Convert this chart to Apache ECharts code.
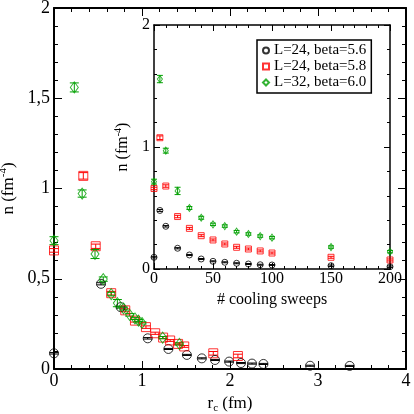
<!DOCTYPE html>
<html>
<head>
<meta charset="utf-8">
<script src="https://cdn.jsdelivr.net/npm/echarts@6/dist/echarts.min.js"></script>
<style>
  html, body { margin: 0; padding: 0; background: #fff; }
  #chart { width: 414px; height: 414px; }
</style>
</head>
<body>
<div id="chart"></div>
<script>
// series names
const names = ['L=24, beta=5.6', 'L=24, beta=5.8', 'L=32, beta=6.0'];
const colors = ['#000000', '#ff0000', '#00a000'];

// main plot: r_c (fm) vs n, with errors
const mainBlack = [[0, 0.087], [0.534, 0.472], [0.757, 0.343], [1.065, 0.17], [1.30, 0.111], [1.51, 0.078], [1.68, 0.059],
  [1.83, 0.05], [1.99, 0.041], [2.125, 0.033], [2.25, 0.03], [2.38, 0.028], [2.91, 0.018], [3.36, 0.017]];
const mainBlackErr = [0.004, 0.006, 0.005, 0.004, 0.003, 0.003, 0.003, 0.003, 0.003, 0.003, 0.003, 0.003, 0.003, 0.003];

const mainRed = [[0, 0.657], [0.333, 1.07], [0.474, 0.68], [0.65, 0.42], [0.81, 0.325], [0.92, 0.268], [1.045, 0.232],
  [1.15, 0.198], [1.24, 0.174], [1.32, 0.158], [1.41, 0.139], [1.48, 0.125], [1.81, 0.087], [2.09, 0.072]];
const mainRedErr = [0.01, 0.018, 0.012, 0.01, 0.008, 0.008, 0.007, 0.006, 0.006, 0.005, 0.005, 0.005, 0.01, 0.01];

const mainGreen = [[0, 0.711], [0.231, 1.56], [0.32, 0.972], [0.466, 0.637], [0.56, 0.498], [0.65, 0.415], [0.72, 0.365],
  [0.79, 0.335], [0.86, 0.30], [0.92, 0.28], [0.96, 0.268], [1.0, 0.255], [1.235, 0.174], [1.425, 0.139]];
const mainGreenErr = [0.022, 0.025, 0.02, 0.025, 0.012, 0.01, 0.02, 0.008, 0.007, 0.006, 0.006, 0.006, 0.006, 0.006];

// inset: cooling sweeps vs n
const sweeps = [0, 5, 10, 20, 30, 40, 50, 60, 70, 80, 90, 100, 150, 200];
const insetBlack = [0.096, 0.48, 0.35, 0.17, 0.115, 0.082, 0.063, 0.055, 0.047, 0.041, 0.035, 0.033, 0.027, 0.019];
const insetRed = [0.66, 1.076, 0.68, 0.43, 0.333, 0.273, 0.238, 0.205, 0.178, 0.164, 0.148, 0.131, 0.096, 0.074];
const insetGreen = [0.716, 1.557, 0.97, 0.64, 0.50, 0.42, 0.366, 0.352, 0.306, 0.287, 0.27, 0.257, 0.18, 0.142];
const insetErr = [
  [0.005, 0.008, 0.006, 0.005, 0.004, 0.004, 0.004, 0.004, 0.004, 0.004, 0.004, 0.004, 0.006, 0.006],
  [0.01, 0.015, 0.01, 0.01, 0.008, 0.008, 0.008, 0.008, 0.008, 0.008, 0.008, 0.008, 0.008, 0.008],
  [0.02, 0.03, 0.02, 0.03, 0.012, 0.012, 0.01, 0.01, 0.01, 0.01, 0.01, 0.01, 0.01, 0.01]
];

const font = 'Liberation Serif';

function errBars(xi, yi, pts, errs, color, cap) {
  return {
    type: 'custom',
    xAxisIndex: xi,
    yAxisIndex: yi,
    silent: true,
    data: pts.map((p, i) => [p[0], p[1], errs[i]]),
    renderItem: function (params, api) {
      const x = api.value(0), y = api.value(1), e = api.value(2);
      const lo = api.coord([x, y - e]);
      const hi = api.coord([x, y + e]);
      const st = { stroke: color, lineWidth: 1 };
      return {
        type: 'group',
        children: [
          { type: 'line', shape: { x1: lo[0], y1: lo[1], x2: hi[0], y2: hi[1] }, style: st },
          { type: 'line', shape: { x1: lo[0] - cap, y1: lo[1], x2: lo[0] + cap, y2: lo[1] }, style: st },
          { type: 'line', shape: { x1: hi[0] - cap, y1: hi[1], x2: hi[0] + cap, y2: hi[1] }, style: st }
        ]
      };
    }
  };
}

function axisPair(kind, gi, opts, big) {
  const lineW = big ? 2 : 1.5;
  const tickLen = big ? 8 : 6;
  const minorLen = big ? 4 : 3;
  const base = {
    gridIndex: gi,
    type: 'value',
    min: opts.min, max: opts.max, interval: opts.interval,
    axisLine: { show: true, onZero: false, lineStyle: { color: '#000', width: lineW } },
    axisTick: { show: true, inside: true, length: tickLen, lineStyle: { color: '#000', width: 1 } },
    minorTick: { show: true, splitNumber: 5, length: minorLen, lineStyle: { color: '#000', width: 1 } },
    splitLine: { show: false },
    minorSplitLine: { show: false }
  };
  const first = Object.assign({}, base, {
    position: kind === 'x' ? 'bottom' : 'left',
    name: opts.name,
    nameLocation: 'middle',
    nameGap: opts.nameGap,
    nameRotate: kind === 'y' ? 90 : 0,
    nameTextStyle: opts.nameStyle,
    axisLabel: {
      show: true, margin: opts.margin, color: '#000', fontFamily: font, fontSize: opts.fontSize,
      formatter: opts.formatter
    }
  });
  const second = Object.assign({}, base, {
    position: kind === 'x' ? 'top' : 'right',
    axisLabel: { show: false }
  });
  return [first, second];
}

const comma = v => String(v).replace('.', ',');

const mainX = axisPair('x', 0, {
  min: 0, max: 4, interval: 1, margin: 3, fontSize: 18, formatter: comma,
  name: 'r{sub|c} (fm)', nameGap: 14,
  nameStyle: { color: '#000', fontFamily: font, fontSize: 17, rich: { sub: { fontSize: 11, fontFamily: font, color: '#000', verticalAlign: 'bottom', padding: [10, 0, 0, 0] } } }
}, true);
const mainY = axisPair('y', 0, {
  min: 0, max: 2, interval: 0.5, margin: 4, fontSize: 18, formatter: comma,
  name: 'n (fm{sup|-4})', nameGap: 34,
  nameStyle: { color: '#000', fontFamily: font, fontSize: 17, rich: { sup: { fontSize: 11, fontFamily: font, color: '#000', verticalAlign: 'top', padding: [0, 0, 10, 0] } } }
}, true);
const insX = axisPair('x', 1, {
  min: 0, max: 200, interval: 50, margin: 2, fontSize: 16,
  name: '# cooling sweeps', nameGap: 17,
  nameStyle: { color: '#000', fontFamily: font, fontSize: 16 }
}, false);
const insY = axisPair('y', 1, {
  min: 0, max: 2, interval: 1, margin: 4, fontSize: 16,
  name: 'n (fm{sup|-4})', nameGap: 18,
  nameStyle: { color: '#000', fontFamily: font, fontSize: 16, rich: { sup: { fontSize: 10, fontFamily: font, color: '#000', verticalAlign: 'top', padding: [0, 0, 9, 0] } } }
}, false);

const mainSets = [mainBlack, mainRed, mainGreen];
const mainErrs = [mainBlackErr, mainRedErr, mainGreenErr];
const insetSets = [insetBlack, insetRed, insetGreen];
const symbols = ['circle', 'rect', 'diamond'];
const mainSizes = [9, 9, [8, 11]];
const insetSizes = [6, 6, [5, 7]];

const series = [];
for (let k = 0; k < 3; k++) {
  const style = { color: 'rgba(255,255,255,0)', borderColor: colors[k], borderWidth: 1 };
  series.push({
    name: names[k], type: 'scatter', xAxisIndex: 0, yAxisIndex: 0,
    symbol: symbols[k], symbolSize: mainSizes[k],
    itemStyle: style,
    data: mainSets[k]
  });
  series.push(errBars(0, 0, mainSets[k], mainErrs[k], colors[k], 4.5));
  const ipts = sweeps.map((s, i) => [s, insetSets[k][i]]);
  series.push({
    name: names[k], type: 'scatter', xAxisIndex: 2, yAxisIndex: 2,
    symbol: symbols[k], symbolSize: insetSizes[k],
    itemStyle: style,
    data: ipts
  });
  series.push(errBars(2, 2, ipts, insetErr[k], colors[k], 3));
}

const chart = echarts.init(document.getElementById('chart'), null, { renderer: 'canvas' });
chart.setOption({
  animation: false,
  backgroundColor: '#fff',
  grid: [
    { left: 54, right: 8, top: 8, bottom: 45, outerBoundsMode: 'none', containLabel: false },
    { left: 154, right: 24, top: 25, bottom: 145, outerBoundsMode: 'none', containLabel: false, show: true, backgroundColor: '#fff', borderWidth: 0 }
  ],
  legend: {
    data: names,
    orient: 'vertical',
    left: 257, top: 40,
    itemWidth: 6, itemHeight: 6, itemGap: 1,
    padding: [3, 5, 3, 5],
    borderColor: '#000', borderWidth: 1.5, borderRadius: 0,
    backgroundColor: '#fff',
    textStyle: { color: '#000', fontFamily: font, fontSize: 15 }
  },
  xAxis: [mainX[0], mainX[1], insX[0], insX[1]],
  yAxis: [mainY[0], mainY[1], insY[0], insY[1]],
  series: series
});
</script>
</body>
</html>
